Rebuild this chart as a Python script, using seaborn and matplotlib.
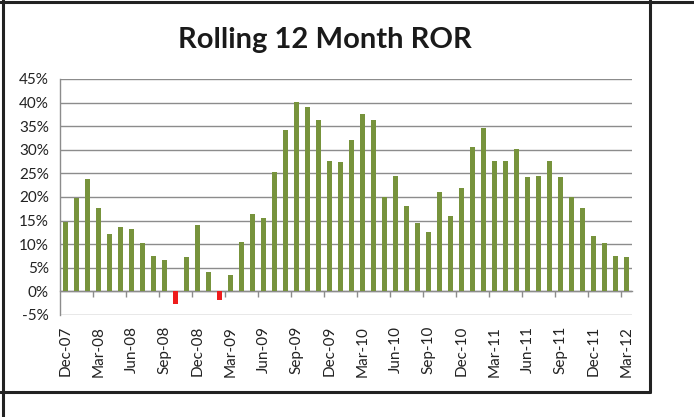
import matplotlib
matplotlib.use("Agg")
import matplotlib.pyplot as plt
import seaborn as sns
import pandas as pd
import numpy as np
from matplotlib.lines import Line2D
from matplotlib.ticker import FuncFormatter

months = ["Dec-07", "Jan-08", "Feb-08", "Mar-08", "Apr-08", "May-08", "Jun-08", "Jul-08",
          "Aug-08", "Sep-08", "Oct-08", "Nov-08", "Dec-08", "Jan-09", "Feb-09", "Mar-09",
          "Apr-09", "May-09", "Jun-09", "Jul-09", "Aug-09", "Sep-09", "Oct-09", "Nov-09",
          "Dec-09", "Jan-10", "Feb-10", "Mar-10", "Apr-10", "May-10", "Jun-10", "Jul-10",
          "Aug-10", "Sep-10", "Oct-10", "Nov-10", "Dec-10", "Jan-11", "Feb-11", "Mar-11",
          "Apr-11", "May-11", "Jun-11", "Jul-11", "Aug-11", "Sep-11", "Oct-11", "Nov-11",
          "Dec-11", "Jan-12", "Feb-12", "Mar-12"]
ror = [14.7, 19.7, 23.8, 17.6, 12.2, 13.6, 13.3, 10.2,
       7.6, 6.7, -2.6, 7.3, 14.0, 4.2, -1.8, 3.5,
       10.5, 16.5, 15.6, 25.2, 34.3, 40.2, 39.1, 36.3,
       27.7, 27.4, 32.0, 37.5, 36.3, 20.1, 24.5, 18.0,
       14.5, 12.5, 21.1, 15.9, 21.9, 30.5, 34.6, 27.7,
       27.7, 30.1, 24.3, 24.5, 27.7, 24.3, 20.1, 17.6,
       11.8, 10.2, 7.5, 7.3]
title = "Rolling 12 Month ROR"

df = pd.DataFrame({"month": months, "ror": ror})
df["sign"] = np.where(df["ror"] < 0, "neg", "pos")

sns.set_style("white")
plt.rcParams["font.family"] = ["Lato", "DejaVu Sans"]

fig = plt.figure(figsize=(6.94, 4.17), dpi=100)
ax = fig.add_axes([60/694, 1-315/417, 572/694, (315-79)/417])

sns.barplot(data=df, x="month", y="ror", hue="sign", dodge=False,
            palette={"pos": "#77933C", "neg": "#EE1C1C"}, width=0.52,
            linewidth=0, edgecolor="none",
            legend=False, ax=ax, zorder=3, saturation=1)

ax.set_xlim(-0.5, len(months) - 0.5)
ax.set_ylim(-5, 45)
ax.set_yticks(np.arange(-5, 46, 5))
ax.yaxis.set_major_formatter(FuncFormatter(lambda v, p: f"{int(round(v))}%"))
ax.grid(axis="y", color="#8c8c8c", linewidth=1.0, zorder=0)
ax.set_axisbelow(True)
for s in ["top", "right", "bottom"]:
    ax.spines[s].set_visible(False)
ax.spines["left"].set_color("#8c8c8c")
ax.spines["left"].set_linewidth(1.0)

ax.set_xticks(range(0, len(months), 3))
ax.set_xticklabels(months[::3], rotation=90, fontsize=11, color="#222222")
ax.tick_params(axis="x", length=0, pad=8)
ax.tick_params(axis="y", length=0, labelsize=11, labelcolor="#222222", pad=8)
ax.set_xlabel("")
ax.set_ylabel("")

# category axis at zero with tick marks between categories
sec = ax.secondary_xaxis(0.1)
sec.set_xticks(np.arange(2.5, len(months), 3))
sec.set_xticklabels([])
sec.tick_params(axis="x", length=4, color="#8c8c8c", width=1)
sec.spines["bottom"].set_color("#8c8c8c")
sec.spines["bottom"].set_linewidth(1.0)

fig.text(325/694, 1-40/417, title, ha="center", va="center",
         fontsize=21, fontweight="bold", color="#1a1a1a")

# surrounding frame lines
W, H = 694, 417
def fl(x0, y0, x1, y1, lw=2.2):
    fig.add_artist(Line2D([x0/W, x1/W], [1-y0/H, 1-y1/H], color="#222222",
                          linewidth=lw, transform=fig.transFigure))
fl(0, 1.5, W, 1.5)
fl(2.5, 0, 2.5, H)
fl(650, 0, 650, 392)
fl(0, 392, 650, 392)

fig.savefig("out.png", dpi=100, facecolor="white")
